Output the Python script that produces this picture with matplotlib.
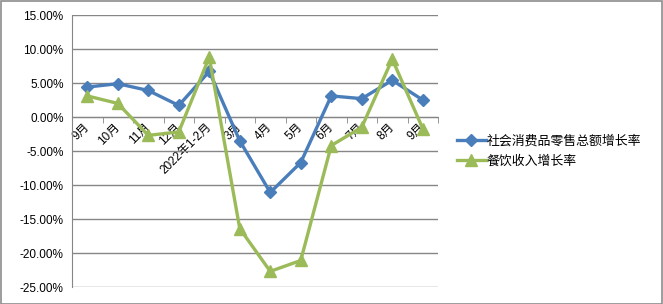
import matplotlib
matplotlib.use("Agg")
import matplotlib.pyplot as plt
from matplotlib.ticker import FuncFormatter, FixedLocator
from matplotlib.lines import Line2D
from matplotlib.patches import Rectangle

plt.rcParams['font.family'] = ['Liberation Sans', 'Noto Sans CJK SC', 'DejaVu Sans']

categories = ["9月", "10月", "11月", "12月", "2022年1-2月", "3月", "4月", "5月", "6月", "7月", "8月", "9月"]
retail = [4.4, 4.9, 3.9, 1.7, 6.7, -3.5, -11.1, -6.7, 3.1, 2.7, 5.4, 2.5]
catering = [3.1, 2.0, -2.7, -2.2, 8.8, -16.4, -22.7, -21.1, -4.2, -1.5, 8.5, -1.7]
series_names = ["社会消费品零售总额增长率", "餐饮收入增长率"]
yticks = [15, 10, 5, 0, -5, -10, -15, -20, -25]

blue = "#4a7ebb"
green = "#9bbb59"
grid_c = "#868686"

fig = plt.figure(figsize=(6.63, 3.04), dpi=100)
fig.patches.append(Rectangle((0.5/663, 0.5/304), 1 - 1.5/663, 1 - 1.5/304, transform=fig.transFigure,
                             fill=False, edgecolor="#8c8c8c", linewidth=1.2))
ax = fig.add_axes([72/663, 1-287/304, (438-72)/663, (287-15)/304])

x = list(range(len(categories)))
ax.plot(x, retail, color=blue, lw=2.4, marker='D', ms=6, mfc=blue, mec=blue, zorder=3)
ax.plot(x, catering, color=green, lw=2.4, marker='^', ms=8, mfc=green, mec=green, zorder=3)

ax.set_xlim(-0.5, len(categories) - 0.5)
ax.set_ylim(-25, 15)
ax.set_yticks(yticks)
ax.yaxis.set_major_formatter(FuncFormatter(lambda v, p: f"{v:.2f}%"))
ax.grid(axis='y', color=grid_c, lw=1.0)
ax.set_axisbelow(True)
ax.tick_params(axis='y', length=0, labelsize=8.5, pad=6)

for s in ['top', 'right']:
    ax.spines[s].set_visible(False)
ax.spines['left'].set_color(grid_c)
ax.spines['bottom'].set_position(('data', 0))
ax.spines['bottom'].set_color(grid_c)

ax.set_xticks(x)
ax.set_xticklabels(categories, rotation=45, ha='right', va='center', rotation_mode='anchor', fontsize=8.5)
ax.tick_params(axis='x', which='major', length=0, pad=6)
ax.xaxis.set_minor_locator(FixedLocator([i + 0.5 for i in range(-1, len(categories))]))
ax.tick_params(axis='x', which='minor', length=4, direction='out', color=grid_c)

handles = [Line2D([], [], color=blue, lw=2.4, marker='D', ms=6),
           Line2D([], [], color=green, lw=2.4, marker='^', ms=8)]
fig.legend(handles, series_names, loc='center left', bbox_to_anchor=(452/663, 1-151/304),
           frameon=False, fontsize=9.3, handlelength=2.2, handletextpad=0.1, labelspacing=0.6,
           borderaxespad=0)

fig.savefig("out.png", dpi=100)
